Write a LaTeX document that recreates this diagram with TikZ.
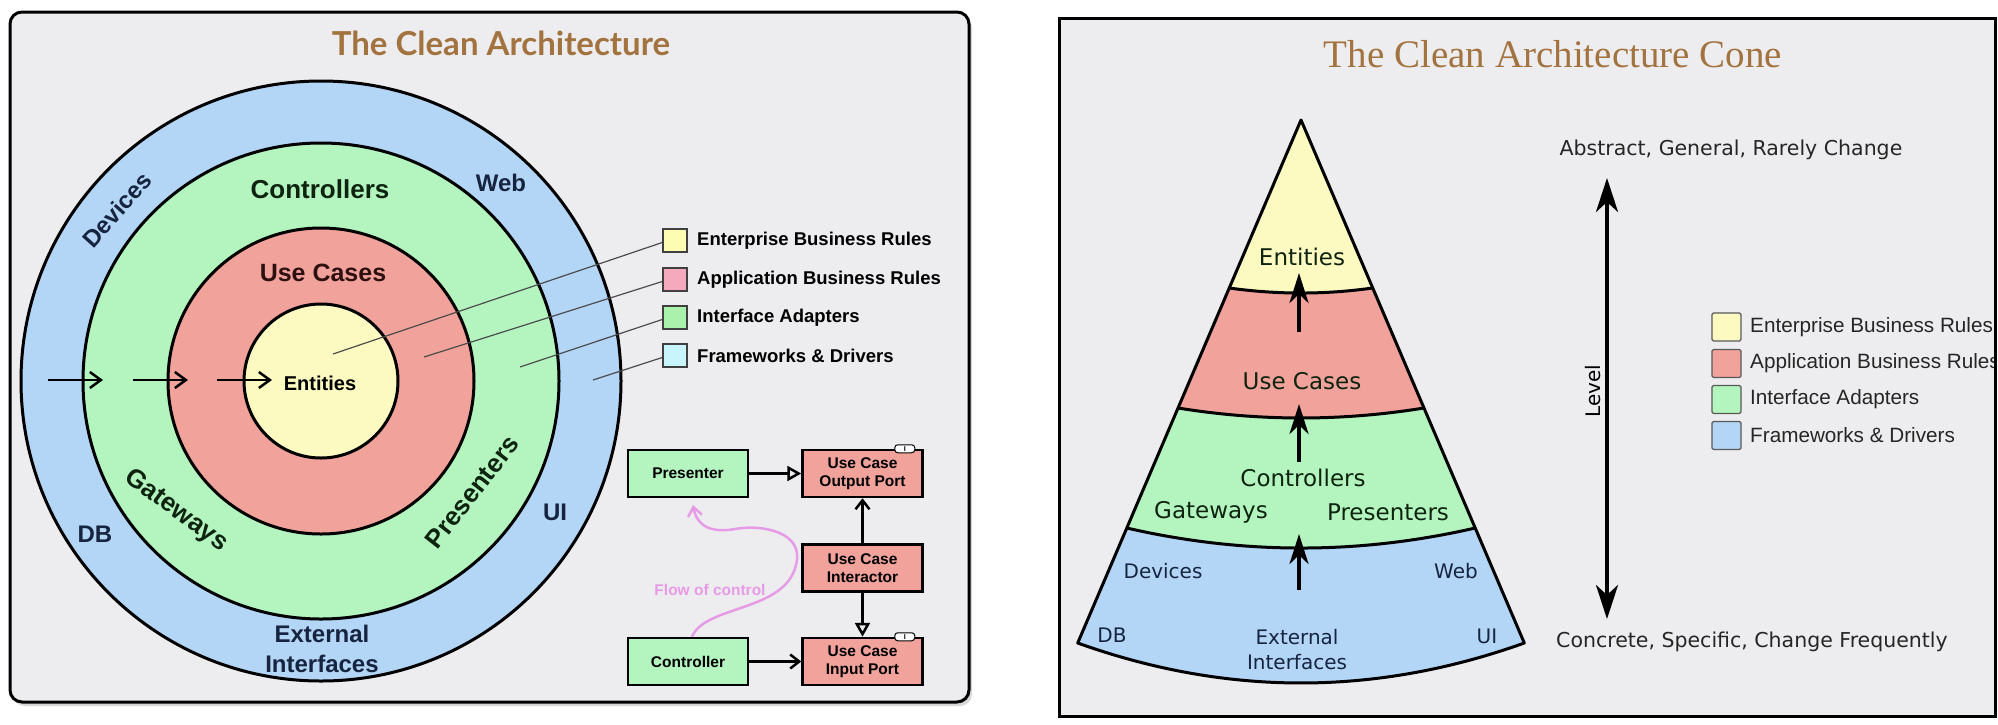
\documentclass[tikz,border=0pt]{standalone}
\usepackage{fontspec}
\setmainfont{Liberation Sans}
\newfontfamily\conefont{DejaVu Sans}
\newfontfamily\ttlserif{Liberation Serif}
\newfontfamily\ttlsans{Lato}
\usetikzlibrary{arrows.meta,positioning,shadows}

\definecolor{panelgray}{HTML}{EDEDEF}
\definecolor{titlebrown}{HTML}{A2733F}
\definecolor{entyellow}{HTML}{FCFAC1}
\definecolor{usepink}{HTML}{F0A29B}
\definecolor{adagreen}{HTML}{B4F5BF}
\definecolor{fwblue}{HTML}{B3D5F6}
\definecolor{legyellow}{HTML}{FDFCB3}
\definecolor{legpink}{HTML}{F4A9BC}
\definecolor{leggreen}{HTML}{AAF2AC}
\definecolor{legcyan}{HTML}{C8F4FB}
\definecolor{flowviolet}{HTML}{E79BE6}
\definecolor{navytext}{HTML}{17243F}
\definecolor{greentext}{HTML}{0E2410}
\definecolor{redtext}{HTML}{2E1010}

\newcommand{\pxfont}[2]{\fontsize{#1}{#2}\selectfont}

\tikzset{
  ring/.style={draw=black, line width=3pt},
  outerlbl/.style={font=\bfseries\pxfont{24}{30}, text=navytext, align=center},
  midlbl/.style={font=\bfseries\pxfont{26}{30}, text=greentext},
  legsq/.style={draw=black!75, line width=1.5pt, minimum width=24pt, minimum height=23pt, inner sep=0pt},
  leglbl/.style={font=\bfseries\pxfont{18.5}{22}, anchor=west, inner xsep=0pt},
  leader/.style={draw=black!70, line width=1.2pt},
  passarrow/.style={line width=2.5pt, -{Straight Barb[length=11pt,width=16pt]}},
  flowbox/.style={draw=black, line width=2.5pt, minimum width=120pt, minimum height=47pt, inner sep=0pt, align=center, font=\bfseries\pxfont{15.5}{18}},
  itag/.style={draw=black, fill=white, line width=1pt, rounded corners=3pt, minimum width=20pt, minimum height=8pt, inner sep=0.5pt, font=\bfseries\pxfont{7}{7}},
  openarrow/.style={line width=2.5pt, -{Straight Barb[length=9pt,width=14pt]}},
  realarrow/.style={line width=2.5pt, -{Triangle[open,length=14pt,width=15pt]}},
  flowline/.style={draw=flowviolet, line width=2.5pt, -{Straight Barb[length=9pt,width=14pt]}},
  conelbl/.style={font=\conefont\pxfont{23}{27}, text=greentext},
  conebase/.style={font=\conefont\pxfont{20}{25}, text=navytext, align=center},
  upstealth/.style={line width=4pt, -{Stealth[length=30pt,width=19pt,inset=9pt]}},
  levelarrow/.style={line width=4pt, {Stealth[length=34pt,width=22pt,inset=10pt]}-{Stealth[length=34pt,width=22pt,inset=10pt]}},
  sidetxt/.style={font=\conefont\pxfont{20.5}{24}, text=black!85},
  rsq/.style={draw=black!65, line width=1.3pt, rounded corners=1.5pt, minimum width=29pt, minimum height=28pt, inner sep=0pt},
  rlbl/.style={font=\pxfont{20.7}{24}, text=black!85, anchor=west, inner xsep=0pt}
}

\begin{document}
\begin{tikzpicture}[x=1pt,y=-1pt]
    \useasboundingbox (0,0) rectangle (1998,724);
    \fill[white] (0,0) rectangle (1998,724);

    % left panel: the circles
    \draw[line width=3pt, rounded corners=12pt, fill=panelgray,
          drop shadow={opacity=0.3, shadow xshift=3pt, shadow yshift=-4pt}] (10,12) rectangle (969,702);
    \node[font=\ttlsans\bfseries\pxfont{33}{38}, text=titlebrown] (lefttitle) at (501,43) {The Clean Architecture};

    \foreach \r/\c in {300/fwblue,238/adagreen,153/usepink,77/entyellow}
        \draw[ring, fill=\c] (321,381) circle[radius=\r pt];

    \node[outerlbl, rotate=48] (devices) at (117,210) {Devices};
    \node[outerlbl] (web) at (501,183) {Web};
    \node[outerlbl] (db) at (95,534) {DB};
    \node[outerlbl] (ui) at (555,512) {UI};
    \node[outerlbl] (extif) at (322,649) {External\\Interfaces};
    \node[midlbl] (controllers) at (320,189) {Controllers};
    \node[midlbl, rotate=-36] (gateways) at (176,511) {Gateways};
    \node[midlbl, rotate=52] (presenters) at (472,492) {Presenters};
    \node[font=\bfseries\pxfont{25}{30}, text=redtext] (usecases) at (323,273) {Use Cases};
    \node[font=\bfseries\pxfont{20}{24}] (entities) at (320,383) {Entities};

    % arrows pointing inwards
    \foreach \a/\b in {48/103,133/188,217/272}{
        \coordinate (s\a) at (\a,380);
        \coordinate (e\a) at (\b,380);
        \draw[passarrow] (s\a) -- (e\a);
    }

    % legend
    \foreach \n/\y/\c/\t in {1/240.5/legyellow/Enterprise Business Rules,
                             2/279.5/legpink/Application Business Rules,
                             3/317.5/leggreen/Interface Adapters,
                             4/355.5/legcyan/Frameworks \& Drivers}{
        \node[legsq, fill=\c] (lsq\n) at (675,\y) {};
        \node[leglbl] (ltx\n) at (697,\y) {\t};
    }
    \coordinate (lp1) at (333,354);
    \coordinate (lp2) at (424,357);
    \coordinate (lp3) at (520,367);
    \coordinate (lp4) at (593,380);
    \foreach \n in {1,...,4}
        \draw[leader] ([yshift=-2pt]lsq\n.west) -- (lp\n);

    % flow of control
    \node[flowbox, fill=adagreen] (presenter) at (688,473.5) {Presenter};
    \node[flowbox, fill=usepink, right=52pt of presenter] (outport) {Use Case\\Output Port};
    \node[flowbox, fill=usepink, below=45pt of outport] (interactor) {Use Case\\Interactor};
    \node[flowbox, fill=usepink, below=44pt of interactor] (inport) {Use Case\\Input Port};
    \node[flowbox, fill=adagreen, left=52pt of inport] (controller) {Controller};
    \node[itag] (otag) at ([xshift=-19pt]outport.north east) {I};
    \node[itag] (itag) at ([xshift=-19pt]inport.north east) {I};

    \draw[realarrow] (presenter) -- (outport);
    \draw[openarrow] (controller) -- (inport);
    \draw[openarrow] (interactor) -- (outport);
    \draw[realarrow] (interactor) -- (inport);

    \coordinate (flowtip) at (693,505);
    \draw[flowline] ([xshift=4pt]controller.north) .. controls (705,605) and (785,612) .. (796,565)
        .. controls (805,532) and (762,524) .. (735,529) .. controls (712,533) and (697,527) .. (flowtip);
    \node[font=\bfseries\pxfont{15.5}{18}, text=flowviolet] (flowlbl) at (710,590) {Flow of control};

    % right panel: the cone
    \draw[line width=3pt, fill=panelgray] (1059,18) rectangle (1995,716);
    \node[font=\ttlserif\pxfont{39}{44}, text=titlebrown] (righttitle) at (1553,54) {The Clean Architecture Cone};

    \coordinate (apex) at (1301,120);
    \coordinate (l1) at (1229.3,288);  \coordinate (r1) at (1372.7,288);
    \coordinate (l2) at (1178,408);    \coordinate (r2) at (1424,408);
    \coordinate (l3) at (1126.8,528);  \coordinate (r3) at (1475.2,528);
    \coordinate (l4) at (1077.7,643);  \coordinate (r4) at (1524.3,643);

    \fill[entyellow] (apex) -- (l1) .. controls (1277.1,294.7) and (1324.9,294.7) .. (r1) -- cycle;
    \fill[usepink] (l1) .. controls (1277.1,294.7) and (1324.9,294.7) .. (r1)
        -- (r2) .. controls (1342,421.3) and (1260,421.3) .. (l2) -- cycle;
    \fill[adagreen] (l2) .. controls (1260,421.3) and (1342,421.3) .. (r2)
        -- (r3) .. controls (1359.1,554.7) and (1242.9,554.7) .. (l3) -- cycle;
    \fill[fwblue] (l3) .. controls (1242.9,554.7) and (1359.1,554.7) .. (r3)
        -- (r4) .. controls (1375.4,696.3) and (1226.6,696.3) .. (l4) -- cycle;
    \draw[line width=3pt] (l1) .. controls (1277.1,294.7) and (1324.9,294.7) .. (r1);
    \draw[line width=3pt] (l2) .. controls (1260,421.3) and (1342,421.3) .. (r2);
    \draw[line width=3pt] (l3) .. controls (1242.9,554.7) and (1359.1,554.7) .. (r3);
    \draw[line width=3pt, line join=round] (apex) -- (l4) .. controls (1226.6,696.3) and (1375.4,696.3) .. (r4) -- cycle;

    \node[conelbl] (centities) at (1302,257) {Entities};
    \node[conelbl] (cusecases) at (1302,381) {Use Cases};
    \node[conelbl] (ccontrollers) at (1303,478) {Controllers};
    \node[conelbl] (cgateways) at (1211,512) {Gateways};
    \node[conelbl] (cpresenters) at (1388,512) {Presenters};
    \node[conebase] (cdevices) at (1163,571) {Devices};
    \node[conebase] (cweb) at (1456,571) {Web};
    \node[conebase] (cdb) at (1112,635) {DB};
    \node[conebase] (cui) at (1487,636) {UI};
    \node[conebase] (cextif) at (1297,650) {External\\Interfaces};

    \foreach \n/\a/\b in {1/332/273,2/462/404,3/590/534}{
        \coordinate (ua\n) at (1299,\a);
        \coordinate (ub\n) at (1299,\b);
        \draw[upstealth] (ua\n) -- (ub\n);
    }

    % level scale
    \node[sidetxt] (abstract) at (1731,150) {Abstract, General, Rarely Change};
    \node[sidetxt, anchor=west, inner xsep=0pt] (concrete) at (1556,642) {Concrete, Specific, Change Frequently};
    \coordinate (lvtop) at (1607,178);
    \coordinate (lvbot) at (1607,619);
    \draw[levelarrow] (lvbot) -- (lvtop);
    \node[font=\conefont\pxfont{20}{24}, rotate=90] (level) at (1593,391) {Level};

    \begin{scope}
        \clip (1059,18) rectangle (1993,716);
        \foreach \n/\y/\c/\t in {1/327/entyellow/Enterprise Business Rules,
                                 2/363.5/usepink/Application Business Rules,
                                 3/399.5/adagreen/Interface Adapters,
                                 4/435.5/fwblue/Frameworks \& Drivers}{
            \node[rsq, fill=\c] (rsq\n) at (1726.5,\y) {};
            \node[rlbl] (rtx\n) at (1750,\y) {\t};
        }
    \end{scope}
\end{tikzpicture}
\end{document}
